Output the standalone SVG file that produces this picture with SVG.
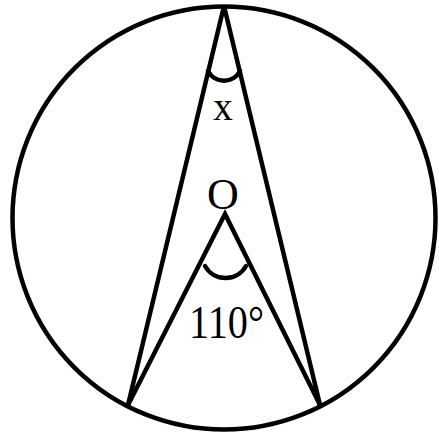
<svg xmlns="http://www.w3.org/2000/svg" width="439" height="435" viewBox="0 0 439 435">
<style>
.ln{fill:none;stroke:#000;stroke-width:4.5;stroke-linejoin:miter}
.arc{fill:none;stroke:#000;stroke-width:4.5;stroke-linecap:round}
.t{font-family:"Liberation Serif","Times New Roman",serif;fill:#000}
</style>
<rect width="439" height="435" fill="#fff"/>
<g id="circle"><circle cx="224" cy="218" r="211.5" class="ln" stroke-width="5"/></g>
<g id="connectors">
<polyline class="ln" points="128,405 224,6 320,405"/>
<polyline class="ln" points="128,405 225,214 320,405"/>
</g>
<g id="angle-x">
<path class="arc" d="M208,71 A18,18 0 0 0 240,71"/>
<text class="t" x="223" y="120" font-size="39" text-anchor="middle">x</text>
</g>
<g id="center-O">
<text class="t" x="223" y="209" font-size="44" text-anchor="middle">O</text>
</g>
<g id="angle-110">
<path class="arc" d="M205,266 A23.5,23.5 0 0 0 246,266" stroke-width="5.5"/>
<text class="t" x="189" y="338" font-size="46" textLength="75" lengthAdjust="spacingAndGlyphs">110°</text>
</g>
</svg>
